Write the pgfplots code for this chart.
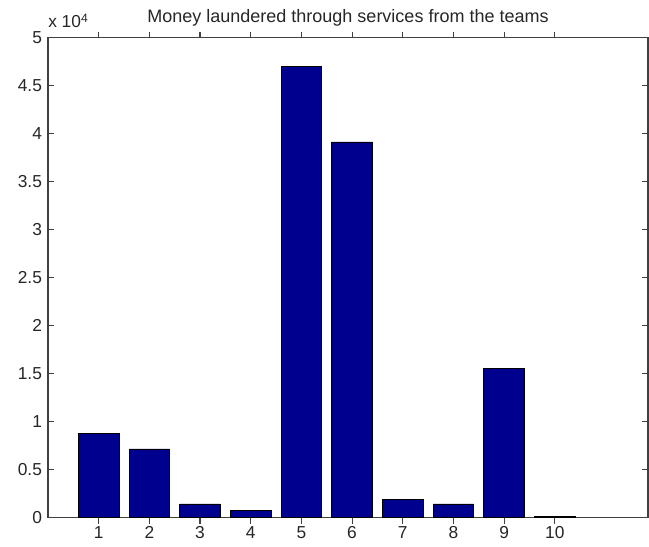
\documentclass[border=0pt]{standalone}
\usepackage{pgfplots}
\pgfplotsset{compat=1.18}
\usepackage{fontspec}
\setmainfont{Liberation Sans}
\definecolor{mnavy}{RGB}{0,0,143}
\begin{document}
\begin{tikzpicture}[x=0.75pt,y=0.75pt]
\begin{axis}[
  at={(0,0)}, anchor=south west,
  scale only axis,
  width=450pt, height=360pt,
  xmin=0, xmax=11.84, ymin=0, ymax=50000,
  xtick={1,...,10},
  ytick={0,5000,...,50000},
  yticklabels={0,0.5,1,1.5,2,2.5,3,3.5,4,4.5,5},
  scaled y ticks=false,
  tick align=inside,
  major tick length=4.5pt,
  xtick pos=both, ytick pos=both,
  xticklabels={},
  extra x ticks={1,...,10},
  extra x tick labels={1,2,3,4,5,6,7,8,9,10},
  extra x tick style={xtick pos=bottom, major tick length=0pt,
    xticklabel style={yshift=-3pt}},
  tick label style={font=\fontsize{13pt}{15pt}\selectfont, text=black!85},
  yticklabel style={xshift=-1pt},
  /pgf/number format/assume math mode=true,
  axis line style={black!75, line width=0.8pt},
  every tick/.style={black!75, line width=0.8pt},
  title={Money laundered through services from the teams},
  title style={font=\fontsize{13.5pt}{15pt}\selectfont, text=black!85,
    at={(0.5,1)}, anchor=base, yshift=5.5pt},
  ybar, bar width=30.5pt,
  clip=false,
]
\addplot[fill=mnavy, draw=black, line width=0.6pt] coordinates {
  (1,8750) (2,7160) (3,1430) (4,730) (5,47050)
  (6,39140) (7,1875) (8,1430) (9,15590) (10,100)
};
\node[anchor=base west, font=\fontsize{13pt}{15pt}\selectfont, text=black!85, inner sep=0pt]
  at (rel axis cs:0,1) [yshift=7.3pt] {x 10\textsuperscript{4}};
\end{axis}
\pgfresetboundingbox
\path[use as bounding box] (-48,-28.3) rectangle (601,517.7);
\end{tikzpicture}
\end{document}
